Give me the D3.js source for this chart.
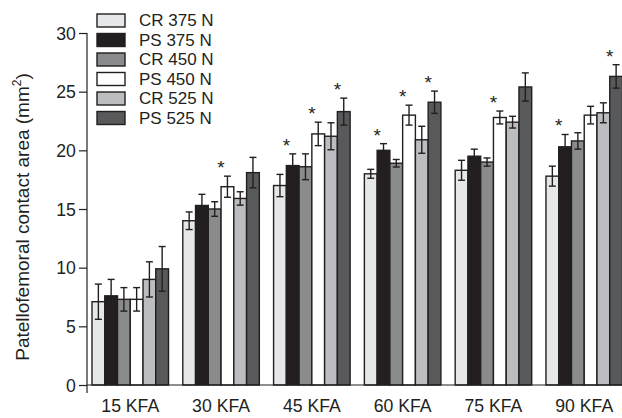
<!DOCTYPE html>
<html>
<head>
<meta charset="utf-8">
<script src="https://cdn.jsdelivr.net/npm/d3@7"></script>
<style>
  html, body { margin: 0; padding: 0; background: #fff; }
  svg { display: block; font-family: "Liberation Sans", Arial, Helvetica, sans-serif; }
</style>
</head>
<body>
<svg id="chart" width="622" height="418"></svg>
<script>
// Knee flexion angles (groups) and implant/load series
const groups = ["15 KFA", "30 KFA", "45 KFA", "60 KFA", "75 KFA", "90 KFA"];
const seriesNames = ["CR 375 N", "PS 375 N", "CR 450 N", "PS 450 N", "CR 525 N", "PS 525 N"];
const seriesColors = ["#e6e7e9", "#231f20", "#8a8b8d", "#ffffff", "#bcbdc0", "#58595b"];

// Mean patellofemoral contact area (mm²) per series, one value per group
const cr375 = [7.1, 14.0, 17.0, 18.0, 18.3, 17.8];
const ps375 = [7.6, 15.3, 18.7, 20.0, 19.5, 20.3];
const cr450 = [7.3, 15.0, 18.6, 18.9, 19.0, 20.8];
const ps450 = [7.3, 16.9, 21.4, 23.0, 22.8, 23.0];
const cr525 = [9.0, 15.9, 21.2, 20.9, 22.4, 23.2];
const ps525 = [9.9, 18.1, 23.3, 24.1, 25.4, 26.3];

// Standard deviations (error bars)
const cr375Err = [1.5, 0.75, 0.95, 0.38, 0.85, 0.85];
const ps375Err = [1.4, 0.95, 1.0, 0.57, 0.6, 1.05];
const cr450Err = [1.0, 0.62, 1.1, 0.32, 0.35, 0.7];
const ps450Err = [1.0, 0.9, 1.0, 0.85, 0.55, 0.75];
const cr525Err = [1.5, 0.57, 1.15, 1.15, 0.5, 0.85];
const ps525Err = [1.9, 1.3, 1.15, 0.95, 1.2, 1.0];

// Significant differences: [group, series]
const significant = [
  ["30 KFA", "PS 450 N"],
  ["45 KFA", "PS 375 N"], ["45 KFA", "PS 450 N"], ["45 KFA", "PS 525 N"],
  ["60 KFA", "PS 375 N"], ["60 KFA", "PS 450 N"], ["60 KFA", "PS 525 N"],
  ["75 KFA", "PS 450 N"],
  ["90 KFA", "PS 375 N"], ["90 KFA", "PS 525 N"]
];

const yTicks = [0, 5, 10, 15, 20, 25, 30];

const means = [cr375, ps375, cr450, ps450, cr525, ps525];
const errs = [cr375Err, ps375Err, cr450Err, ps450Err, cr525Err, ps525Err];

const svg = d3.select("#chart");
const ink = "#231f20";
const fontSize = 19;
const narrow = 0.93; // slightly condensed horizontal text

const y = d3.scaleLinear().domain([0, 30]).range([385, 33]);
const x = d3.scaleBand().domain(groups).range([87, 627.5])
  .paddingInner(0.157).paddingOuter(0.055);
const xs = d3.scaleBand().domain(seriesNames).range([0, x.bandwidth()]);
const color = d3.scaleOrdinal().domain(seriesNames).range(seriesColors);

// Flatten into records
const records = [];
seriesNames.forEach((s, si) => {
  groups.forEach((g, gi) => {
    records.push({ group: g, series: s, value: means[si][gi], err: errs[si][gi] });
  });
});
const lookup = new Map(records.map(d => [d.group + "|" + d.series, d]));

// Bars
svg.append("g")
  .selectAll("rect")
  .data(records)
  .join("rect")
  .attr("x", d => x(d.group) + xs(d.series))
  .attr("y", d => y(d.value))
  .attr("width", xs.bandwidth())
  .attr("height", d => y(0) - y(d.value))
  .attr("fill", d => color(d.series))
  .attr("stroke", ink)
  .attr("stroke-width", 1.4);

// Error bars
const capHalf = 3.5;
const eb = svg.append("g").attr("stroke", ink).attr("stroke-width", 1.4).attr("fill", "none");
records.forEach(d => {
  const cx = x(d.group) + xs(d.series) + xs.bandwidth() / 2;
  const top = y(d.value + d.err), bot = y(d.value - d.err);
  eb.append("line").attr("x1", cx).attr("x2", cx).attr("y1", top).attr("y2", bot);
  eb.append("line").attr("x1", cx - capHalf).attr("x2", cx + capHalf).attr("y1", top).attr("y2", top);
  eb.append("line").attr("x1", cx - capHalf).attr("x2", cx + capHalf).attr("y1", bot).attr("y2", bot);
});

// Significance asterisks
svg.append("g")
  .selectAll("text")
  .data(significant.map(([g, s]) => lookup.get(g + "|" + s)))
  .join("text")
  .attr("x", d => x(d.group) + xs(d.series))
  .attr("y", d => y(d.value + d.err) - 2)
  .attr("text-anchor", "middle")
  .attr("font-size", 19)
  .attr("fill", ink)
  .text("*");

// Baseline
svg.append("line")
  .attr("x1", 87).attr("x2", 622)
  .attr("y1", y(0)).attr("y2", y(0))
  .attr("stroke", ink).attr("stroke-width", 1.2);

// Y axis
const yAxis = svg.append("g")
  .attr("transform", "translate(87,0)")
  .call(d3.axisLeft(y).tickValues(yTicks).tickSize(8).tickPadding(4));
yAxis.select(".domain").attr("stroke", ink).attr("stroke-width", 1.2)
  .attr("d", `M0,${y(30)}V${y(0) + 8}`);
yAxis.selectAll(".tick line").attr("stroke", ink).attr("stroke-width", 1.2);
yAxis.selectAll(".tick text")
  .attr("font-size", fontSize)
  .attr("font-family", "Liberation Sans, Arial, sans-serif")
  .attr("fill", ink)
  .attr("transform", `scale(${narrow},1)`);

// X axis labels
svg.append("g")
  .selectAll("text")
  .data(groups)
  .join("text")
  .attr("transform", d => `translate(${x(d) + x.bandwidth() / 2},412) scale(${narrow},1)`)
  .attr("text-anchor", "middle")
  .attr("font-size", fontSize)
  .attr("fill", ink)
  .text(d => d);

// Y axis title
const title = svg.append("text")
  .attr("transform", "translate(29,217) rotate(-90)")
  .attr("text-anchor", "middle")
  .attr("font-size", fontSize)
  .attr("fill", ink);
title.append("tspan").text("Patellofemoral contact area (mm");
title.append("tspan").attr("font-size", 12).attr("dy", -8).text("2");
title.append("tspan").attr("dy", 8).text(")");

// Legend
const legend = svg.append("g");
seriesNames.forEach((s, i) => {
  const cy = 20.5 + i * 19.5;
  legend.append("rect")
    .attr("x", 97).attr("y", cy - 6.5)
    .attr("width", 28).attr("height", 13)
    .attr("fill", color(s)).attr("stroke", ink).attr("stroke-width", 1.4);
  legend.append("text")
    .attr("x", 139).attr("y", cy)
    .attr("dy", "0.35em")
    .attr("font-size", 17)
    .attr("fill", ink)
    .text(s);
});
</script>
</body>
</html>
